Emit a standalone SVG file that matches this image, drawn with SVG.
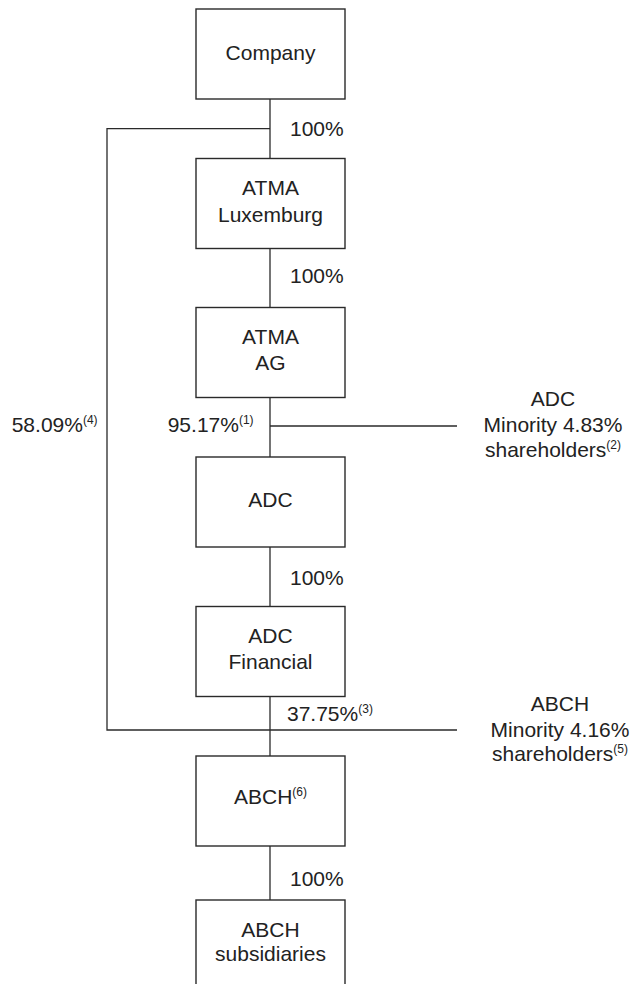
<svg xmlns="http://www.w3.org/2000/svg" width="632" height="984" viewBox="0 0 632 984">
<style>
  .box { fill: #ffffff; stroke: #2a2a2a; stroke-width: 1.4; }
  .ln { fill: none; stroke: #2a2a2a; stroke-width: 1.3; }
  text { font-family: "Liberation Sans", Arial, Helvetica, sans-serif; font-size: 21px; fill: #222222; }
  .c { text-anchor: middle; }
  .sup { font-size: 12px; }
</style>
<rect width="632" height="984" fill="#ffffff"/>
<g id="connectors">
  <line class="ln" x1="270" y1="99" x2="270" y2="158.5"/>
  <line class="ln" x1="270" y1="248.5" x2="270" y2="307.5"/>
  <line class="ln" x1="270" y1="397.5" x2="270" y2="457"/>
  <line class="ln" x1="270" y1="547" x2="270" y2="606.5"/>
  <line class="ln" x1="270" y1="696.5" x2="270" y2="756"/>
  <line class="ln" x1="270" y1="846" x2="270" y2="900"/>
  <polyline class="ln" points="270,128.7 107,128.7 107,730 457,730"/>
  <line class="ln" x1="270" y1="426" x2="457" y2="426"/>
</g>
<g id="labels">
  <text x="290" y="136">100%</text>
  <text x="290" y="282.7">100%</text>
  <text x="290" y="585">100%</text>
  <text x="290" y="886">100%</text>
  <text x="167.7" y="431.5">95.17%<tspan class="sup" dy="-8">(1)</tspan></text>
  <text x="11.7" y="431.5">58.09%<tspan class="sup" dy="-8">(4)</tspan></text>
  <text x="287" y="720.7">37.75%<tspan class="sup" dy="-8">(3)</tspan></text>
</g>
<g id="company">
  <rect class="box" x="196" y="9" width="149" height="90"/>
  <text class="c" x="270.5" y="60">Company</text>
</g>
<g id="atma-luxemburg">
  <rect class="box" x="196" y="158.5" width="149" height="90"/>
  <text class="c" x="270.5" y="195">ATMA</text>
  <text class="c" x="270.5" y="221.5">Luxemburg</text>
</g>
<g id="atma-ag">
  <rect class="box" x="196" y="307.5" width="149" height="90"/>
  <text class="c" x="270.5" y="344">ATMA</text>
  <text class="c" x="270.5" y="370">AG</text>
</g>
<g id="adc">
  <rect class="box" x="196" y="457" width="149" height="90"/>
  <text class="c" x="270.5" y="506.7">ADC</text>
</g>
<g id="adc-financial">
  <rect class="box" x="196" y="606.5" width="149" height="90"/>
  <text class="c" x="270.5" y="643">ADC</text>
  <text class="c" x="270.5" y="669">Financial</text>
</g>
<g id="abch">
  <rect class="box" x="196" y="756" width="149" height="90"/>
  <text class="c" x="270.5" y="804">ABCH<tspan class="sup" dy="-8">(6)</tspan></text>
</g>
<g id="abch-subsidiaries">
  <rect class="box" x="196" y="900" width="149" height="90"/>
  <text class="c" x="270.5" y="936.7">ABCH</text>
  <text class="c" x="270.5" y="961">subsidiaries</text>
</g>
<g id="adc-minority">
  <text class="c" x="553" y="406">ADC</text>
  <text class="c" x="553" y="432">Minority 4.83%</text>
  <text class="c" x="553" y="457">shareholders<tspan class="sup" dy="-8">(2)</tspan></text>
</g>
<g id="abch-minority">
  <text class="c" x="560" y="711">ABCH</text>
  <text class="c" x="560" y="737">Minority 4.16%</text>
  <text class="c" x="560" y="761">shareholders<tspan class="sup" dy="-8">(5)</tspan></text>
</g>
</svg>
